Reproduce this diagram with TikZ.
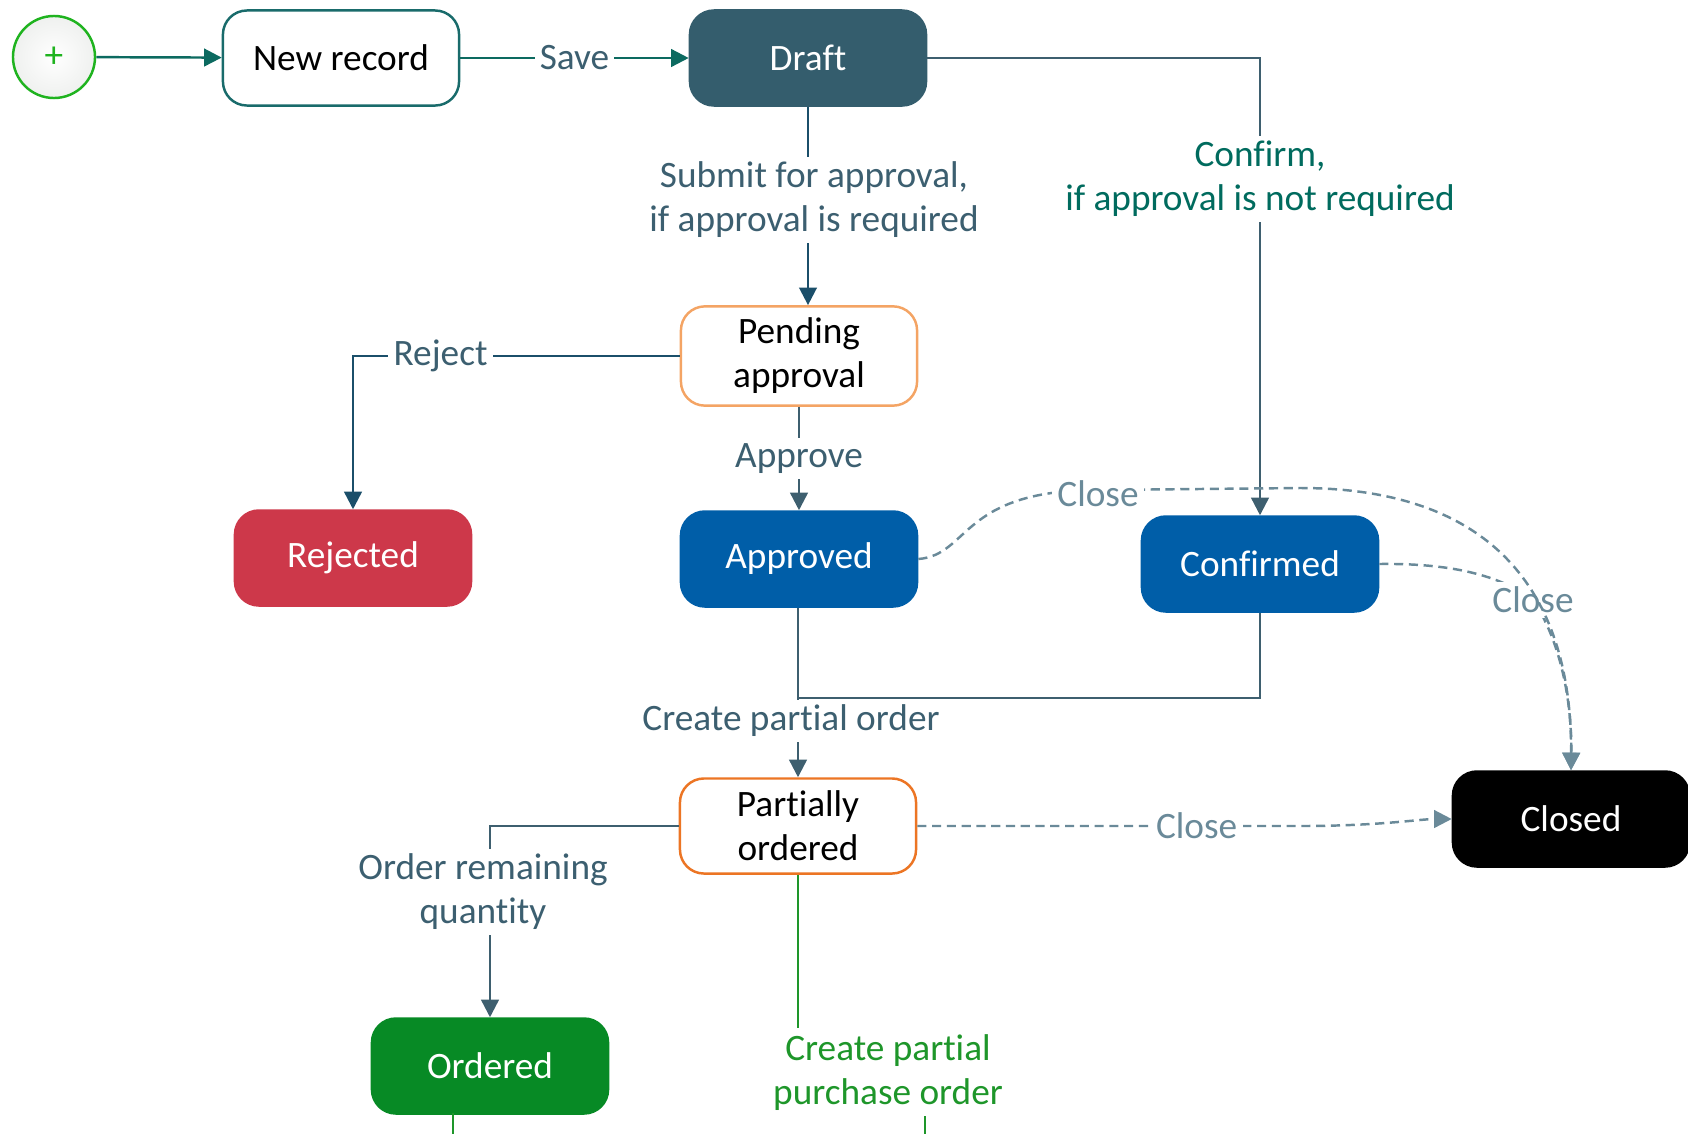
\documentclass[tikz,border=0pt]{standalone}
\usepackage{fontspec}
\setmainfont{Carlito}[Ligatures=NoCommon]
\usetikzlibrary{arrows.meta}
\newcommand*{\bw }{2.36cm}
\newcommand*{\bh }{0.95cm}
\newcommand*{\rad}{0.24cm}
\newcommand*{\lw }{0.7pt}
\definecolor{draftcol}{RGB}{52,93,109}
\definecolor{rejcol}{RGB}{205,56,74}
\definecolor{apcol}{RGB}{0,94,168}
\definecolor{ordcol}{RGB}{7,138,37}
\definecolor{pendcol}{RGB}{244,164,100}
\definecolor{partcol}{RGB}{236,117,36}
\definecolor{newcol}{RGB}{25,107,107}
\definecolor{startcol}{RGB}{31,179,31}
\definecolor{lteal}{RGB}{12,106,96}
\definecolor{lslate}{RGB}{62,95,111}
\definecolor{lnavy}{RGB}{27,79,106}
\definecolor{labcol}{RGB}{60,95,112}
\definecolor{confcol}{RGB}{0,107,94}
\definecolor{closecol}{RGB}{106,138,153}
\definecolor{grcol}{RGB}{30,150,42}
\tikzset{
	state/.style n args={2}{
		rectangle,
		rounded corners = \rad,
		minimum width = \bw,
		minimum height = \bh,
		fill = #1,
		draw = #2,
		line width = \lw,
		align = center,
		},
	link/.style={
		draw = #1,
		line width = \lw,
		-{Triangle[length=5pt, width=5pt]},
		},
	tag/.style={
		fill = white,
		text = labcol,
		align = center,
		inner sep = 1.5pt,
		},
	closeline/.style={
		draw = closecol,
		line width = \lw,
		dash pattern = on 2.6pt off 1.6pt,
		-{Triangle[length=5pt, width=5pt]},
		},
	closetag/.style={
		tag,
		text = closecol,
		}
	}
\begin{document}
\begin{tikzpicture}[x=0.01cm, y=-0.01cm, font=\fontsize{10.6}{12.5}\selectfont]
	\useasboundingbox (0,0) rectangle (1688,1133);
	% states
	\foreach \n/\x/\y/\f/\d/\c/\t in {%
		newr/341/58/white/newcol/black/{New record},%
		draft/808/58/draftcol/draftcol/white/Draft,%
		pend/799/356/white/pendcol/black/{Pending\\approval},%
		rej/353/558/rejcol/rejcol/white/Rejected,%
		appr/799/559/apcol/apcol/white/Approved,%
		conf/1260/564/apcol/apcol/white/Confirmed,%
		part/798/826/white/partcol/black/{Partially\\ordered},%
		clos/1571/819/black/black/white/Closed,%
		ord/490/1066/ordcol/ordcol/white/Ordered%
		} {
		\node (\n) [state={\f}{\d}, text=\c] at (\x,\y) {\t};
	};
	\node (start) [circle, minimum size=0.82cm, draw=startcol, line width=\lw,
		inner color=white, outer color=green!5!gray!12, text=startcol] at (54,57) {+};
	% transitions
	\draw [link=lteal] (start) -- (newr);
	\draw [link=lteal] (newr) -- node[tag] {Save} (draft);
	\draw [link=lnavy] (draft.south) -- node[tag, pos=0.47, xshift=0.06cm] {Submit for approval,\\if approval is required} (draft.south |- pend.north);
	\draw [link=lslate] (draft.east) -| node[tag, pos=0.632, text=confcol] {Confirm,\\if approval is not required} (conf.north);
	\draw [link=lnavy] (pend.west) -| node[tag, pos=0.366] {Reject} (rej.north);
	\draw [link=lslate] (pend.south) -- node[tag] {Approve} (appr.north);
	\coordinate (join) at (798,698);
	\draw [lslate, line width=\lw] (appr.south -| join) -- (join) -| (conf.south);
	\draw [link=lslate] (join) -- node[tag, pos=0.29, xshift=-0.07cm] {Create partial order} (part.north);
	\draw [link=lslate] (part.west) -| node[tag, pos=0.672, xshift=-0.07cm] {Order remaining\\quantity} (ord.north);
	% green ones, cut at the bottom
	\coordinate (gp1) at (798,1028);
	\coordinate (gp2) at (925,1116);
	\coordinate (gp3) at (925,1140);
	\coordinate (og1) at (453,1113);
	\coordinate (og2) at (453,1140);
	\node (cpp) [tag, text=grcol] at (888,1073) {Create partial\\purchase order};
	\draw [grcol, line width=\lw] (part.south) -- (gp1);
	\draw [grcol, line width=\lw] (gp2) -- (gp3);
	\draw [grcol, line width=\lw] (og1) -- (og2);
	% close
	\draw [closeline] (conf.east) .. controls (1450,563) and (1500,575) .. (1533,600) node[closetag] {Close}
		.. controls (1560,640) and (1572,700) .. (clos.north);
	\draw [closeline] (appr.east) .. controls (970,555) and (960,490) .. (1098,490) node[closetag, yshift=-0.04cm] {Close}
		-- (1300,488) .. controls (1500,488) and (1572,600) .. (clos.north);
	\draw [closeline] (part.east) -- node[closetag, pos=0.73] {Close} (1300,826)
		.. controls (1380,826) and (1420,819) .. (clos.west);
\end{tikzpicture}
\end{document}
